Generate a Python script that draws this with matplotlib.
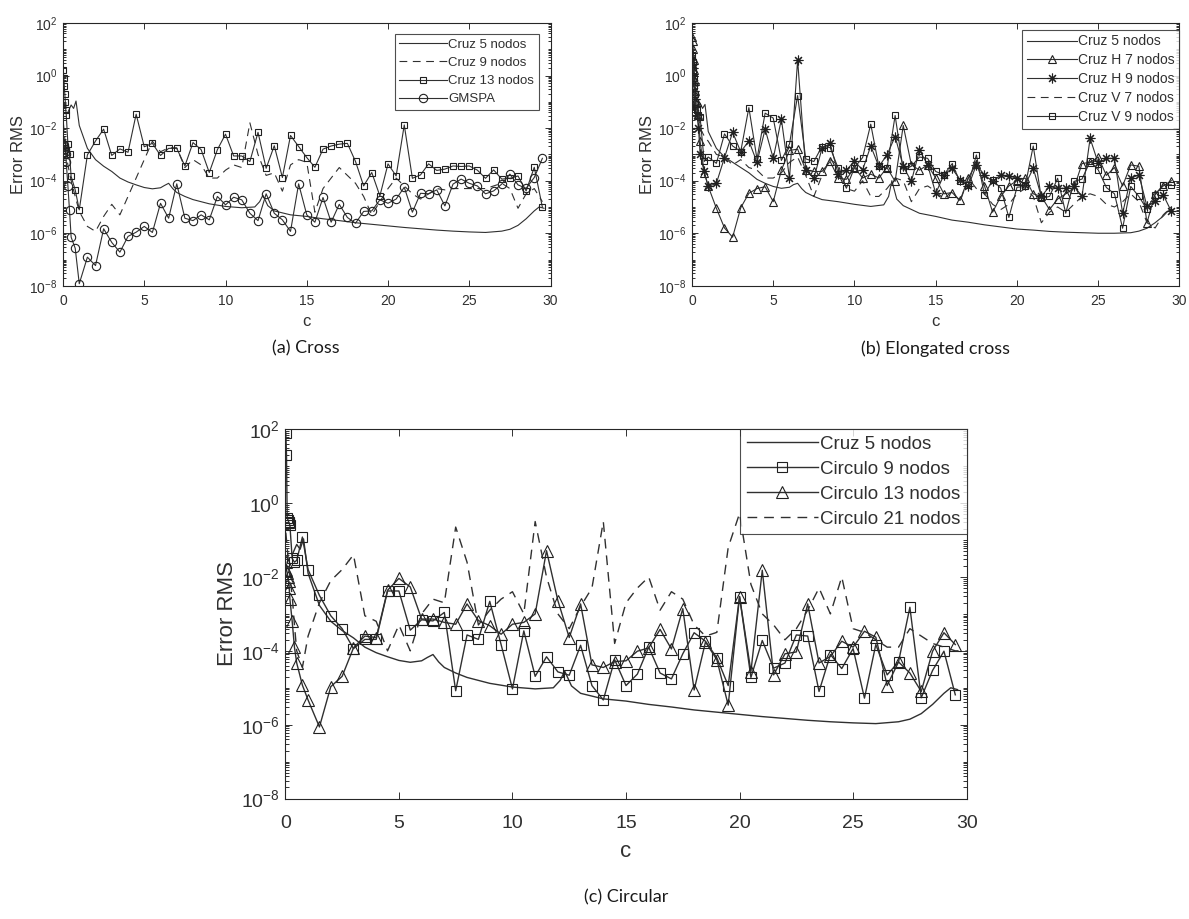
import numpy as np
import matplotlib
matplotlib.use('Agg')
import matplotlib.pyplot as plt
from matplotlib.ticker import LogLocator, NullFormatter

plt.rcParams['font.family'] = ['Liberation Sans', 'DejaVu Sans']
plt.rcParams['mathtext.fontset'] = 'custom'
plt.rcParams['mathtext.rm'] = 'Liberation Sans'
plt.rcParams['mathtext.it'] = 'Liberation Sans:italic'
plt.rcParams['mathtext.bf'] = 'Liberation Sans:bold'

# valores de c: zona densa cerca de 0 y luego pasos de 0.5
C_NEAR = [0.02, 0.05, 0.08, 0.11, 0.14, 0.17, 0.2, 0.3, 0.4, 0.5, 0.75]
C_GRID = [1.0, 1.5, 2.0, 2.5, 3.0, 3.5, 4.0, 4.5, 5.0, 5.5,
          6.0, 6.5, 7.0, 7.5, 8.0, 8.5, 9.0, 9.5, 10.0, 10.5,
          11.0, 11.5, 12.0, 12.5, 13.0, 13.5, 14.0, 14.5, 15.0, 15.5,
          16.0, 16.5, 17.0, 17.5, 18.0, 18.5, 19.0, 19.5, 20.0, 20.5,
          21.0, 21.5, 22.0, 22.5, 23.0, 23.5, 24.0, 24.5, 25.0, 25.5,
          26.0, 26.5, 27.0, 27.5, 28.0, 28.5, 29.0, 29.5]
C_END = [30.0]

# Cruz 5 nodos (curva suave), log10 del error
CRUZ5_C = [0.3, 0.5, 0.65, 0.8, 1.0, 1.5, 2.0, 2.5, 3.0, 3.5,
           4.0, 4.5, 5.0, 5.5, 6.0, 6.25, 6.5, 6.75, 7.0, 7.5,
           8.0, 9.0, 10.0, 11.0, 11.8, 12.1, 12.3, 12.6, 13.0, 14.0,
           15.0, 16.0, 17.0, 18.0, 19.0, 20.0, 21.0, 22.0, 23.0, 24.0,
           25.0, 26.0, 27.0, 27.5, 28.0, 28.5, 29.0, 29.3, 29.6]
CRUZ5_LOG = [-1.4, -1.12, -1.25, -0.97, -1.9, -2.77, -3.2, -3.45, -3.65, -3.9,
             -4.05, -4.16, -4.26, -4.31, -4.27, -4.18, -4.1, -4.3, -4.45, -4.6,
             -4.72, -4.88, -4.98, -5.03, -5.0, -4.8, -4.55, -4.95, -5.15, -5.3,
             -5.36, -5.45, -5.52, -5.6, -5.66, -5.72, -5.78, -5.83, -5.88, -5.92,
             -5.95, -5.97, -5.92, -5.85, -5.7, -5.45, -5.15, -5.0, -5.05]
CRUZ5_B_LOG = [-1.4, -1.05, -1.25, -1.1, -2.13, -2.77, -3.1, -3.3, -3.5, -3.7,
               -3.95, -4.1, -4.22, -4.29, -4.25, -4.15, -4.1, -4.3, -4.45, -4.6,
               -4.72, -4.8, -4.9, -4.98, -4.92, -4.6, -4.0, -4.7, -4.95, -5.24,
               -5.36, -5.5, -5.58, -5.68, -5.76, -5.84, -5.88, -5.93, -5.96, -5.98,
               -6.0, -6.0, -5.98, -5.92, -5.81, -5.6, -5.35, -5.15, -5.1]

# (a) Cruz
A_CRUZ9_LOG = [-1.8, -2.0, -2.2, -2.4, -2.6, -2.8, -3.0, -3.4, -3.7, -4.0, -4.6,
               -5.17, -5.74, -5.93, -5.36, -4.90, -5.30, -4.60, -3.90, -3.20, -2.50,
               -2.90, -2.75, -2.75, -3.50, -3.20, -3.40, -3.90, -3.90, -3.60, -3.40,
               -3.50, -1.80, -3.00, -3.80, -3.70, -4.40, -3.40, -3.20,
               -3.30, -5.20, -4.30, -3.90, -3.50, -3.80, -4.10, -4.60, -5.30, -4.80,
               -4.30, -3.90, -4.20, -4.50, -4.70, -4.50, -4.30, -4.35, -4.30, -4.30,
               -4.30, -4.30, -4.30, -4.20, -4.10, -4.30, -5.05, -4.50, -4.30, -4.80]
A_CRUZ13_LOG = [0.2, -0.1, -0.4, -0.7, -1.0, -1.3, -1.5, -2.6, -3.0, -3.84, -4.35,
                -5.11, -3.02, -2.49, -2.04, -3.04, -2.79, -2.92, -1.47, -2.71, -2.58,
                -3.04, -2.77, -2.77, -3.44, -2.55, -2.82, -3.69, -2.82, -2.23, -3.06,
                -3.06, -3.27, -2.16, -3.53, -2.67, -3.88, -2.28, -2.70,
                -3.12, -3.49, -2.80, -2.68, -2.61, -2.58, -3.27, -4.20, -3.69, -4.58,
                -3.36, -3.82, -1.88, -3.91, -3.78, -3.36, -3.61, -3.56, -3.44, -3.46,
                -3.44, -3.60, -3.91, -3.59, -3.94, -3.91, -3.82, -4.39, -3.49, -5.01]
A_GMSPA_LOG = [-2.6, -2.65, -2.7, -2.8, -2.9, -3.0, -3.3, -4.2, -5.13, -6.15, -6.57,
               -7.92, -6.91, -7.23, -5.83, -6.35, -6.72, -6.12, -5.96, -5.74, -5.97,
               -4.86, -5.43, -4.12, -5.43, -5.52, -5.30, -5.49, -4.60, -4.92, -4.63,
               -4.73, -5.24, -5.52, -4.50, -5.24, -5.49, -5.93, -4.12,
               -5.30, -5.58, -4.64, -5.58, -4.90, -5.40, -5.62, -5.17, -5.15, -4.73,
               -4.86, -4.70, -4.25, -5.20, -4.48, -4.50, -4.35, -4.96, -4.13, -3.94,
               -4.10, -4.20, -4.50, -4.39, -4.13, -3.75, -4.16, -4.29, -3.88, -3.15]

# (b) Cruz alargada
B_H7_LOG = [1.45, 1.3, 1.0, 0.6, 0.2, -0.2, -0.6, -1.0, -1.5, -2.5, -3.69,
            -4.22, -5.05, -5.80, -6.15, -5.03, -4.48, -4.30, -4.23, -4.80, -3.60,
            -2.85, -2.80, -3.60, -3.65, -3.65, -3.27, -3.90, -3.95, -3.50, -3.90,
            -3.75, -3.90, -3.50, -4.03, -1.90, -3.40, -3.60, -3.40,
            -3.90, -4.50, -4.45, -4.75, -3.90, -3.35, -4.20, -5.20, -4.60, -4.20,
            -4.00, -3.90, -4.50, -4.60, -5.10, -4.70, -4.50, -4.30, -3.35, -3.30,
            -3.10, -3.80, -3.50, -4.20, -3.40, -3.45, -5.60, -4.50, -4.20, -4.00]
B_H9_LOG = [0.5, 0.3, 0.0, -0.3, -0.6, -0.9, -1.2, -1.5, -2.0, -3.0, -3.65,
            -4.22, -4.10, -3.12, -2.16, -2.90, -2.49, -3.30, -2.04, -3.15, -1.66,
            -3.91, 0.59, -3.59, -3.91, -2.77, -2.58, -3.75, -3.59, -3.27, -3.59,
            -2.68, -3.46, -3.02, -2.32, -3.46, -4.03, -2.83, -3.40,
            -4.48, -3.78, -3.53, -3.97, -4.22, -3.40, -3.78, -4.03, -3.78, -3.82,
            -3.91, -4.16, -3.53, -4.60, -4.22, -4.29, -4.29, -4.19, -4.60, -2.39,
            -3.34, -3.15, -3.15, -5.24, -3.91, -3.78, -4.98, -4.79, -4.54, -5.17]
B_V7_LOG = [1.0, 0.6, 0.2, -0.2, -0.5, -0.8, -1.0, -1.3, -1.6, -2.0, -2.3,
            -2.5, -3.0, -3.1, -3.4, -3.2, -3.5, -3.6, -3.9, -3.9, -3.7,
            -3.3, -3.1, -3.8, -4.6, -3.8, -3.2, -3.4, -4.3, -4.4, -4.0,
            -4.6, -4.6, -4.3, -3.9, -4.0, -4.8, -4.3, -4.2,
            -4.4, -4.7, -4.4, -4.8, -3.9, -4.3, -4.5, -4.9, -5.1, -4.9,
            -4.5, -4.3, -4.6, -5.6, -5.2, -5.0, -5.2, -4.9, -4.6, -4.5,
            -4.6, -4.9, -5.0, -4.8, -4.5, -4.8, -5.6, -5.8, -5.3, -5.0]
B_V9_LOG = [0.8, 0.5, 0.2, -0.1, -0.4, -0.7, -1.0, -1.3, -1.5, -1.59, -3.27,
            -3.10, -3.34, -2.22, -2.68, -2.89, -1.22, -3.18, -1.43, -1.62, -3.23,
            -2.60, -0.76, -3.17, -3.27, -2.70, -2.74, -3.53, -4.29, -3.50, -3.12,
            -1.85, -3.46, -3.53, -1.52, -3.60, -3.45, -3.10, -3.15,
            -3.65, -3.78, -3.36, -4.03, -4.16, -3.02, -4.54, -3.97, -4.29, -5.40,
            -4.25, -4.22, -2.68, -4.67, -4.60, -3.91, -5.24, -4.03, -3.94, -3.27,
            -3.59, -4.26, -4.50, -5.81, -4.22, -4.60, -5.09, -4.54, -4.16, -4.16]

# (c) Circular
C_CIRC9_LOG = [1.9, 1.3, -0.4, -0.45, -0.5, -0.55, -0.6, -1.5, -1.6, -1.55, -0.92,
               -1.80, -2.50, -3.05, -3.40, -3.94, -3.69, -3.69, -2.38, -2.38, -3.44,
               -3.16, -3.19, -2.96, -5.08, -3.57, -3.69, -2.66, -3.83, -5.03, -3.46,
               -4.69, -4.16, -4.57, -4.66, -3.85, -4.94, -5.33, -4.24, -4.94, -4.63,
               -3.90, -4.60, -4.76, -4.08, -3.51, -3.74, -4.19, -4.94, -2.53, -4.72,
               -3.72, -4.47, -4.33, -3.57, -3.60, -5.10, -4.10, -4.48, -3.94, -5.28,
               -3.83, -4.65, -4.30, -2.82, -5.27, -4.53, -4.01, -5.19]
C_CIRC13_LOG = [-1.6, -1.8, -1.9, -2.0, -2.1, -2.3, -2.6, -3.2, -3.9, -4.33, -4.93,
                -5.33, -6.06, -4.97, -4.69, -3.92, -3.60, -3.64, -2.36, -2.04, -2.27,
                -3.14, -3.14, -3.23, -3.28, -2.73, -3.18, -3.32, -3.55, -3.28, -3.23,
                -3.00, -1.29, -2.64, -3.64, -2.73, -4.38, -4.45, -4.29, -4.27, -4.01,
                -3.92, -3.42, -3.95, -2.86, -5.06, -3.76, -4.24, -5.47, -2.53, -4.56,
                -1.82, -4.65, -4.08, -4.03, -2.73, -4.33, -4.15, -3.74, -3.90, -3.47,
                -3.63, -4.94, -4.30, -4.60, -5.10, -4.01, -3.51, -3.83]
C_CIRC21_LOG = [-0.8, -1.0, -1.2, -1.4, -1.6, -1.8, -2.0, -2.5, -3.3, -4.0, -4.45,
                -3.6, -2.7, -2.1, -1.8, -1.4, -3.05, -3.2, -4.0, -3.3, -4.0,
                -3.0, -2.6, -2.7, -0.65, -1.6, -3.3, -2.9, -2.6, -2.4, -3.0,
                -0.5, -2.0, -3.0, -3.4, -2.8, -2.3, -0.5, -3.8, -2.7, -2.3,
                -2.0, -2.9, -2.4, -2.6, -3.3, -3.6, -3.5, -1.2, -0.28, -2.2,
                -3.0, -3.3, -3.7, -3.4, -2.9, -2.3, -3.0, -2.0, -3.4, -3.5,
                -3.7, -3.9, -3.9, -3.4, -3.6, -3.8, -3.9, -4.0, -4.0]

LINE = '#303030'
TXT = '#303030'
YTICKS = [1e-8, 1e-6, 1e-4, 1e-2, 1e0, 1e2]
YLABELS = [r'$10^{-8}$', r'$10^{-6}$', r'$10^{-4}$', r'$10^{-2}$', r'$10^{0}$', r'$10^{2}$']


def lg(vals):
    return 10.0 ** np.asarray(vals)


def style_axes(ax, fs_tick, fs_label, scale, xpad, xlabpad):
    ax.set_yscale('log')
    ax.set_xlim(0, 30)
    ax.set_ylim(1e-8, 1e2)
    ax.set_xticks([0, 5, 10, 15, 20, 25, 30])
    ax.set_yticks(YTICKS)
    ax.set_yticklabels(YLABELS)
    ax.yaxis.set_minor_locator(LogLocator(base=10, subs=np.arange(1, 10), numticks=100))
    ax.yaxis.set_minor_formatter(NullFormatter())
    ax.tick_params(which='both', direction='in', top=True, right=True,
                   colors=TXT, labelsize=fs_tick, width=0.7)
    ax.tick_params(which='major', length=4 * scale)
    ax.tick_params(axis='x', which='major', pad=xpad)
    ax.tick_params(axis='y', which='major', pad=4)
    ax.tick_params(which='minor', length=2 * scale)
    for s in ax.spines.values():
        s.set_color('#262626')
        s.set_linewidth(0.8)
    ax.set_xlabel('c', fontsize=fs_label, color=TXT, labelpad=xlabpad)
    ax.set_ylabel('Error RMS', fontsize=fs_label, color=TXT, labelpad=2)


def make_legend(ax, fs, anchor, spacing, hlen):
    leg = ax.legend(loc='upper right', bbox_to_anchor=anchor, fontsize=fs,
                    frameon=True, fancybox=False, handlelength=hlen,
                    labelspacing=spacing, borderpad=0.35, borderaxespad=0,
                    handletextpad=0.1)
    leg.get_frame().set_edgecolor('#222222')
    leg.get_frame().set_linewidth(0.8)
    for t in leg.get_texts():
        t.set_color(TXT)


fig = plt.figure(figsize=(11.89, 9.19), dpi=100)
ax_a = fig.add_axes([0.053, 0.689, 0.410, 0.286])
ax_b = fig.add_axes([0.582, 0.689, 0.410, 0.286])
ax_c = fig.add_axes([0.240, 0.131, 0.573, 0.402])

x_all = C_NEAR + C_GRID
mk = dict(mfc='none', mec='#202020', mew=0.8)
dash_s = (7, 5)

# (a)
ax_a.plot(CRUZ5_C, lg(CRUZ5_LOG), '-', color=LINE, lw=0.8, label='Cruz 5 nodos')
ax_a.plot(x_all, lg(A_CRUZ9_LOG), '--', color=LINE, lw=0.8, dashes=dash_s, label='Cruz 9 nodos')
ax_a.plot(x_all, lg(A_CRUZ13_LOG), '-s', color=LINE, lw=0.8, ms=4.5, label='Cruz 13 nodos', **mk)
ax_a.plot(x_all, lg(A_GMSPA_LOG), '-o', color=LINE, lw=0.8, ms=6, label='GMSPA', **mk)
style_axes(ax_a, 10, 12, 1.0, 6, 4)
make_legend(ax_a, 9.5, (0.976, 0.958), 0.45, 3.6)

# (b)
ax_b.plot(CRUZ5_C, lg(CRUZ5_B_LOG), '-', color=LINE, lw=0.8, label='Cruz 5 nodos')
ax_b.plot(x_all, lg(B_H7_LOG), '-^', color=LINE, lw=0.8, ms=6, label='Cruz H 7 nodos', **mk)
ax_b.plot(x_all, lg(B_H9_LOG), '-', marker=(8, 2, 0), color=LINE, lw=0.8, ms=7,
          mec='#202020', mew=0.8, label='Cruz H 9 nodos')
ax_b.plot(x_all, lg(B_V7_LOG), '--', color=LINE, lw=0.8, dashes=dash_s, label='Cruz V 7 nodos')
ax_b.plot(x_all, lg(B_V9_LOG), '-s', color=LINE, lw=0.8, ms=4.5, label='Cruz V 9 nodos', **mk)
style_axes(ax_b, 10, 12, 1.0, 6, 4)
make_legend(ax_b, 10, (1.0, 0.975), 0.35, 3.6)

# (c)
ax_c.plot(CRUZ5_C, lg(CRUZ5_LOG), '-', color=LINE, lw=1.0, label='Cruz 5 nodos')
ax_c.plot(x_all, lg(C_CIRC9_LOG), '-s', color=LINE, lw=1.0, ms=6.5, label='Circulo 9 nodos', **mk)
ax_c.plot(x_all, lg(C_CIRC13_LOG), '-^', color=LINE, lw=1.0, ms=8.5, label='Circulo 13 nodos', **mk)
ax_c.plot(x_all + C_END, lg(C_CIRC21_LOG), '--', color=LINE, lw=1.0, dashes=dash_s,
          label='Circulo 21 nodos')
style_axes(ax_c, 14, 16, 1.3, 12, 6)
make_legend(ax_c, 13.5, (1.0, 1.0), 0.42, 3.8)

cap = dict(ha='center', va='center', fontsize=13, family=['Lato', 'DejaVu Sans'], color='#1a1a1a')
fig.text(0.2574, 0.621, '(a) Cross', **cap)
fig.text(0.7864, 0.621, '(b) Elongated cross', **cap)
fig.text(0.5265, 0.023, '(c) Circular', **cap)

fig.savefig('out.png', dpi=100)
